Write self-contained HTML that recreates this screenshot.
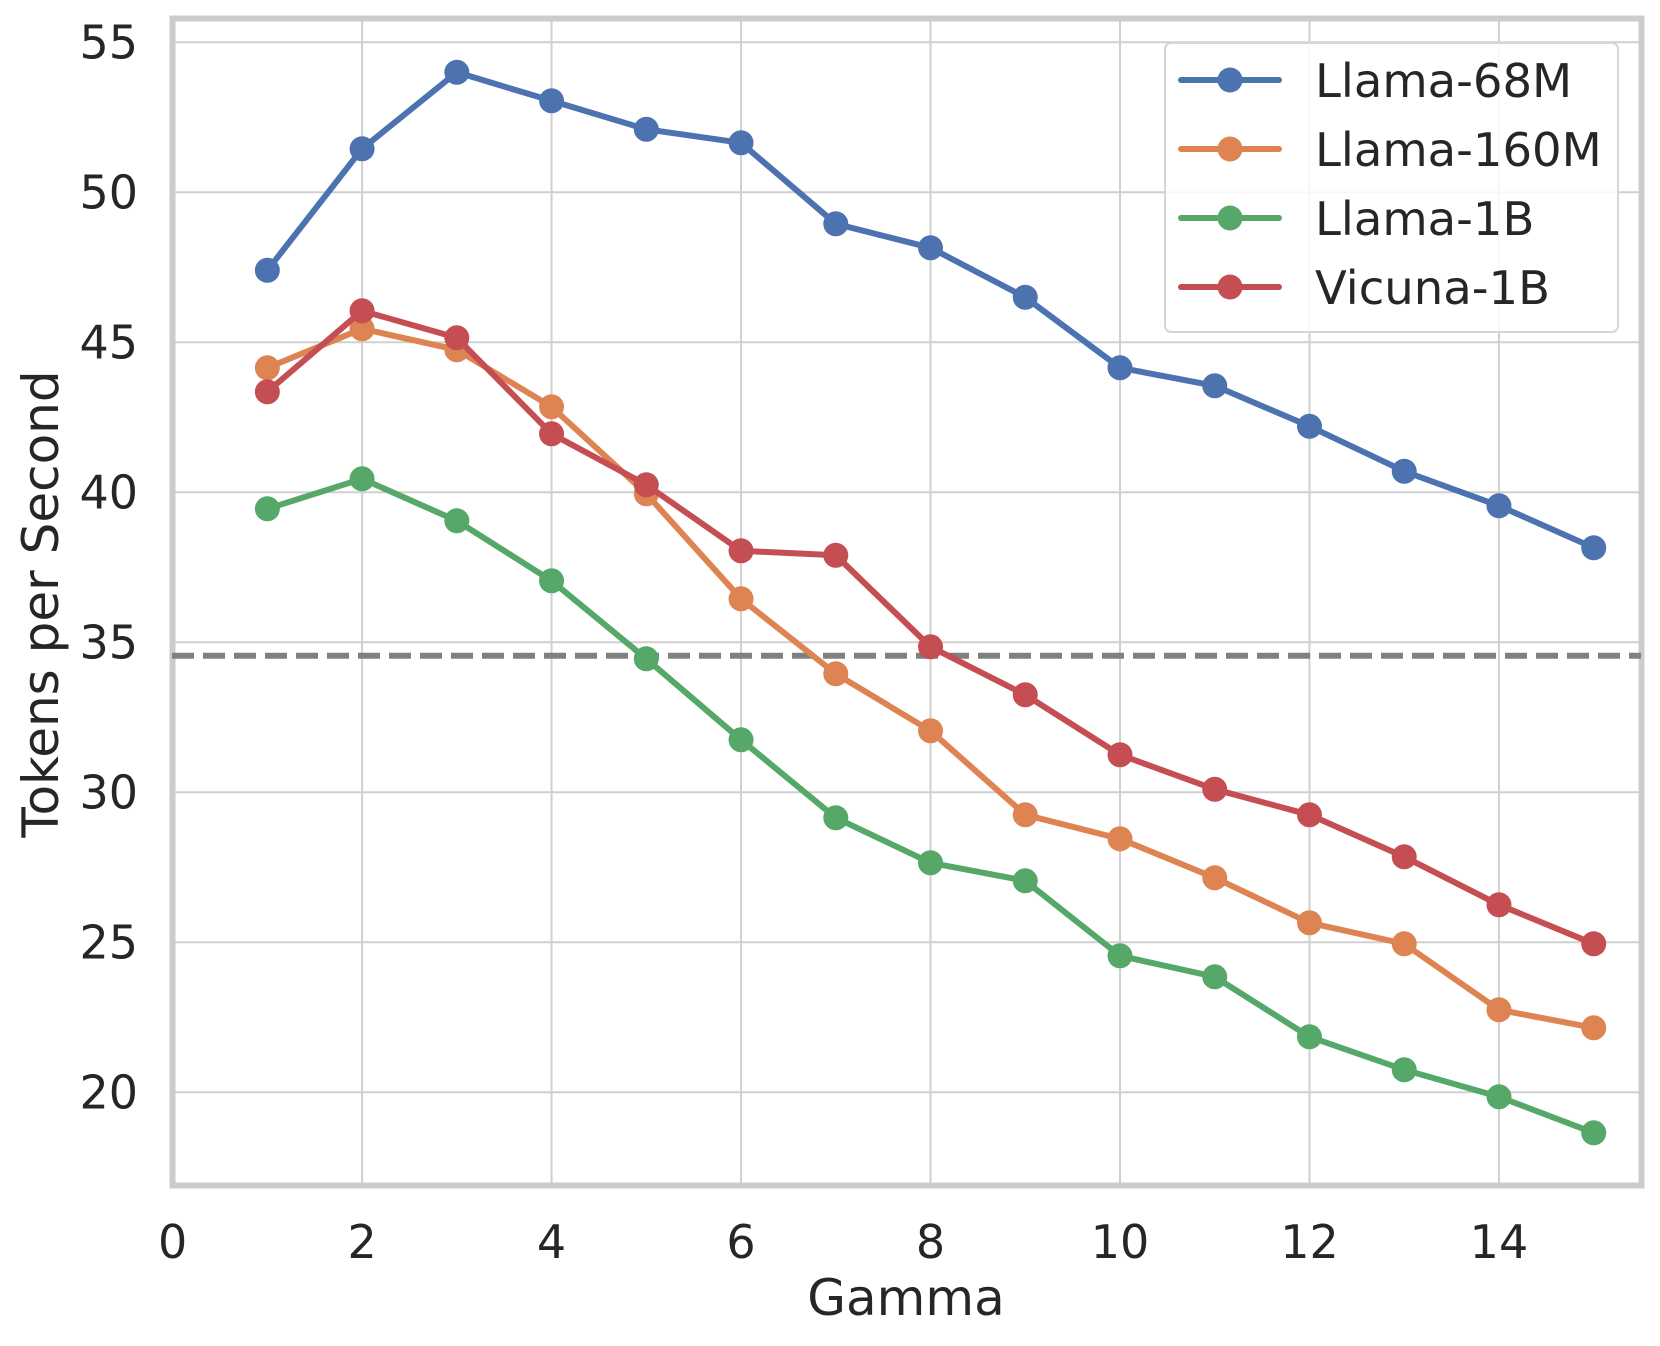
<!DOCTYPE html>
<html><head><meta charset="utf-8"><style>html,body{margin:0;padding:0;background:#fff}svg{display:block}text{font-family:"DejaVu Sans","Liberation Sans",sans-serif;fill:#262626}</style></head>
<body>
<svg id="s" width="1660" height="1346" viewBox="0 0 1660 1346" xmlns="http://www.w3.org/2000/svg"></svg>
<script>
const s=document.getElementById('s');
const X=v=>172.6+v*94.74, Y=v=>42.3+(55-v)*30;
let h='';
for(let g=0;g<=14;g+=2){if(g>0)h+=`<line x1="${X(g)}" y1="19" x2="${X(g)}" y2="1186" stroke="#d0d0d0" stroke-width="2"/>`;
h+=`<text x="${X(g)}" y="1258" font-size="46" text-anchor="middle">${g}</text>`;}
for(let g=20;g<=55;g+=5){h+=`<line x1="172" y1="${Y(g)}" x2="1641" y2="${Y(g)}" stroke="#d0d0d0" stroke-width="2"/>`;
h+=`<text x="138" y="${Y(g)+16}" font-size="46" text-anchor="end">${g}</text>`;}
h+=`<rect x="172.5" y="18.5" width="1469" height="1167" fill="none" stroke="#cccccc" stroke-width="6"/>`;
h+=`<line x1="172" y1="${Y(34.55)}" x2="1641" y2="${Y(34.55)}" stroke="#808080" stroke-width="6" stroke-dasharray="22,9"/>`;
const D=[["#4c72b0","Llama-68M",[47.4,51.45,54.0,53.05,52.1,51.65,48.95,48.15,46.5,44.15,43.55,42.2,40.7,39.55,38.15]],
["#dd8452","Llama-160M",[44.15,45.45,44.75,42.85,39.95,36.45,33.95,32.05,29.25,28.45,27.15,25.65,24.95,22.75,22.15]],
["#55a868","Llama-1B",[39.45,40.45,39.05,37.05,34.45,31.75,29.15,27.65,27.05,24.55,23.85,21.85,20.75,19.85,18.65]],
["#c44e52","Vicuna-1B",[43.35,46.05,45.15,41.95,40.25,38.05,37.9,34.85,33.25,31.25,30.1,29.25,27.85,26.25,24.95]]];
D.forEach(([c,n,v])=>{h+=`<polyline fill="none" stroke="${c}" stroke-width="6" stroke-linejoin="round" stroke-linecap="round" points="${v.map((y,i)=>X(i+1)+','+Y(y)).join(' ')}"/>`;
v.forEach((y,i)=>h+=`<circle cx="${X(i+1)}" cy="${Y(y)}" r="12.5" fill="${c}"/>`);});
h+=`<rect x="1165" y="43" width="453" height="289" rx="6" fill="#fff" fill-opacity="0.85" stroke="#d6d6d6" stroke-width="2"/>`;
D.forEach(([c,n],i)=>{const y=80+i*69;h+=`<line x1="1181" y1="${y}" x2="1279" y2="${y}" stroke="${c}" stroke-width="6" stroke-linecap="round"/><circle cx="1230" cy="${y}" r="12.5" fill="${c}"/><text x="1315" y="${y+17}" font-size="46.5">${n}</text>`;});
h+=`<text x="906" y="1315" font-size="50" text-anchor="middle">Gamma</text>`;
h+=`<text transform="translate(58,604) rotate(-90)" font-size="50" text-anchor="middle">Tokens per Second</text>`;
s.innerHTML=h;
</script>
</body></html>
